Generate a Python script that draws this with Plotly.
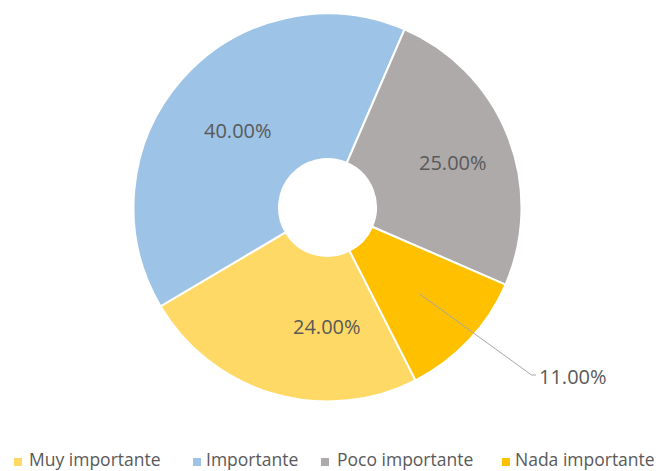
import math
import plotly.graph_objects as go

# Survey results: importance rating shares
categories = ["Muy importante", "Importante", "Poco importante", "Nada importante"]
values = [24, 40, 25, 11]
colors = ["#FFD966", "#9DC3E6", "#AEAAAA", "#FFC000"]

W, H = 659, 471
CX, CY, R = 327.5, 207.5, 194.0  # donut centre and outer radius (px)
ROTATION = 153  # first slice starts here, clockwise from 12 o'clock
TEXT_COLOR = "#595959"
FONT = "Open Sans"

total = sum(values)
labels_text = [f"{v / total:.2%}" for v in values]

dom_x = [(CX - R) / W, (CX + R) / W]
dom_y = [1 - (CY + R) / H, 1 - (CY - R) / H]

fig = go.Figure(
    go.Pie(
        labels=categories,
        values=values,
        textinfo="none",
        hole=0.25,
        sort=False,
        direction="clockwise",
        rotation=ROTATION,
        marker=dict(colors=colors, line=dict(color="white", width=2)),
        domain=dict(x=dom_x, y=dom_y),
        hoverinfo="label+percent",
        showlegend=False,
    )
)


def px_to_paper(x, y):
    return x / W, 1 - y / H


# data labels (pixel centres); the smallest slice is labelled outside
label_pos = [(327, 326), (238, 131), (453, 163), (537, 376)]
for i, (txt, (x, y)) in enumerate(zip(labels_text, label_pos)):
    px, py = px_to_paper(x, y)
    fig.add_annotation(
        x=px, y=py, xref="paper", yref="paper",
        text=txt, showarrow=False,
        xanchor="left" if i == 3 else "center", yanchor="middle",
        font=dict(family=FONT, size=20, color=TEXT_COLOR),
    )

# leader line for the outside label, starting inside its slice
start_angle = ROTATION + 360 * sum(values[:3]) / total
mid_angle = math.radians(start_angle + 360 * values[3] / total / 2)
r_in = 0.65 * R
x0 = CX + r_in * math.sin(mid_angle)
y0 = CY - r_in * math.cos(mid_angle)
elbow = (531.5, 375.0)
tail = (536.0, 375.0)
p0 = px_to_paper(x0, y0)
p1 = px_to_paper(*elbow)
p2 = px_to_paper(*tail)
fig.add_shape(
    type="path",
    xref="paper", yref="paper",
    path=f"M {p0[0]},{p0[1]} L {p1[0]},{p1[1]} L {p2[0]},{p2[1]}",
    line=dict(color="#A6A6A6", width=1),
)

# horizontal legend along the bottom: square swatch + label per category
legend_swatch_x = [18, 197, 325, 506]
legend_text_x = [28, 205, 336, 514]
legend_y = 462
half = 4
for name, col, sx, tx in zip(categories, colors, legend_swatch_x, legend_text_x):
    a = px_to_paper(sx - half, legend_y - half)
    b = px_to_paper(sx + half, legend_y + half)
    fig.add_shape(
        type="rect", xref="paper", yref="paper",
        x0=a[0], y0=a[1], x1=b[0], y1=b[1],
        fillcolor=col, line=dict(width=0),
    )
    t = px_to_paper(tx, 459)
    fig.add_annotation(
        x=t[0], y=t[1], xref="paper", yref="paper",
        text=name, showarrow=False, borderpad=0,
        xanchor="left", yanchor="middle",
        font=dict(family=FONT, size=17.5, color=TEXT_COLOR),
    )

fig.update_layout(
    width=W, height=H,
    margin=dict(l=0, r=0, t=0, b=0),
    paper_bgcolor="white",
    plot_bgcolor="white",
    showlegend=False,
)

fig.write_html("out.html")
